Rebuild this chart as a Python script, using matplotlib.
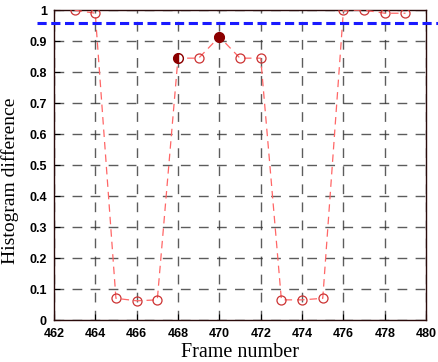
import numpy as np
import matplotlib.pyplot as plt

frames = [463, 464, 465, 466, 467, 468, 469, 470, 471, 472, 473, 474, 475, 476, 477, 478, 479]
hist_diff = [1.0, 0.99, 0.07, 0.062, 0.065, 0.845, 0.845, 0.914, 0.845, 0.845,
             0.065, 0.065, 0.07, 1.0, 1.0, 0.99, 0.99]
threshold = 0.959
half_frame = 468
key_frame = 470

xticks = np.arange(462, 481, 2)
yticks = np.round(np.arange(0, 1.01, 0.1), 1)
ytick_labels = ['0'] + ['%.1f' % v for v in yticks[1:-1]] + ['1']

fig = plt.figure(figsize=(4.38, 3.62), dpi=100)
ax = fig.add_axes([0.123, 0.116, 0.850, 0.856])

ax.plot(frames, hist_diff, linestyle=(0, (6, 4)), color='#ff6666', lw=0.9,
        marker='o', markersize=6.5, markerfacecolor='none',
        markeredgecolor='#cc3333', markeredgewidth=0.9, zorder=3)

# highlighted frames
i = frames.index(half_frame)
ax.plot(frames[i], hist_diff[i], marker='o', markersize=7, fillstyle='left',
        color='#8b0000', markerfacecoloralt='white', zorder=4)
i = frames.index(key_frame)
ax.plot(frames[i], hist_diff[i], marker='o', markersize=7, color='#8b0000', zorder=4)

# threshold line runs past the axes
ax.plot([461.2, 482.2], [threshold, threshold], color='#1a1aff', lw=2.2,
        linestyle=(0, (3, 1.5)), clip_on=False, zorder=5)

ax.set_xlim(462, 480)
ax.set_ylim(0, 1)
ax.set_xticks(xticks)
ax.set_yticks(yticks)
ax.set_yticklabels(ytick_labels)
ax.grid(True, color='#333333', linestyle=(0, (7, 6)), lw=1.0, alpha=0.8)
ax.tick_params(direction='in', length=4, labelsize=9, width=0.8)
ax.tick_params(axis='x', pad=6)
ax.tick_params(axis='y', pad=5)
for lab in ax.get_xticklabels() + ax.get_yticklabels():
    lab.set_fontweight('bold')
    lab.set_family('Liberation Sans')
for s in ax.spines.values():
    s.set_color('#2a0a0a')
    s.set_linewidth(1.0)

ax.set_xlabel('Frame number', family='Liberation Serif', fontsize=14.5, labelpad=2)
ax.set_ylabel('Histogram difference', family='Liberation Serif', fontsize=14, labelpad=6)
ax.yaxis.set_label_coords(-0.095, 0.45)

fig.savefig('out.png', dpi=100)
